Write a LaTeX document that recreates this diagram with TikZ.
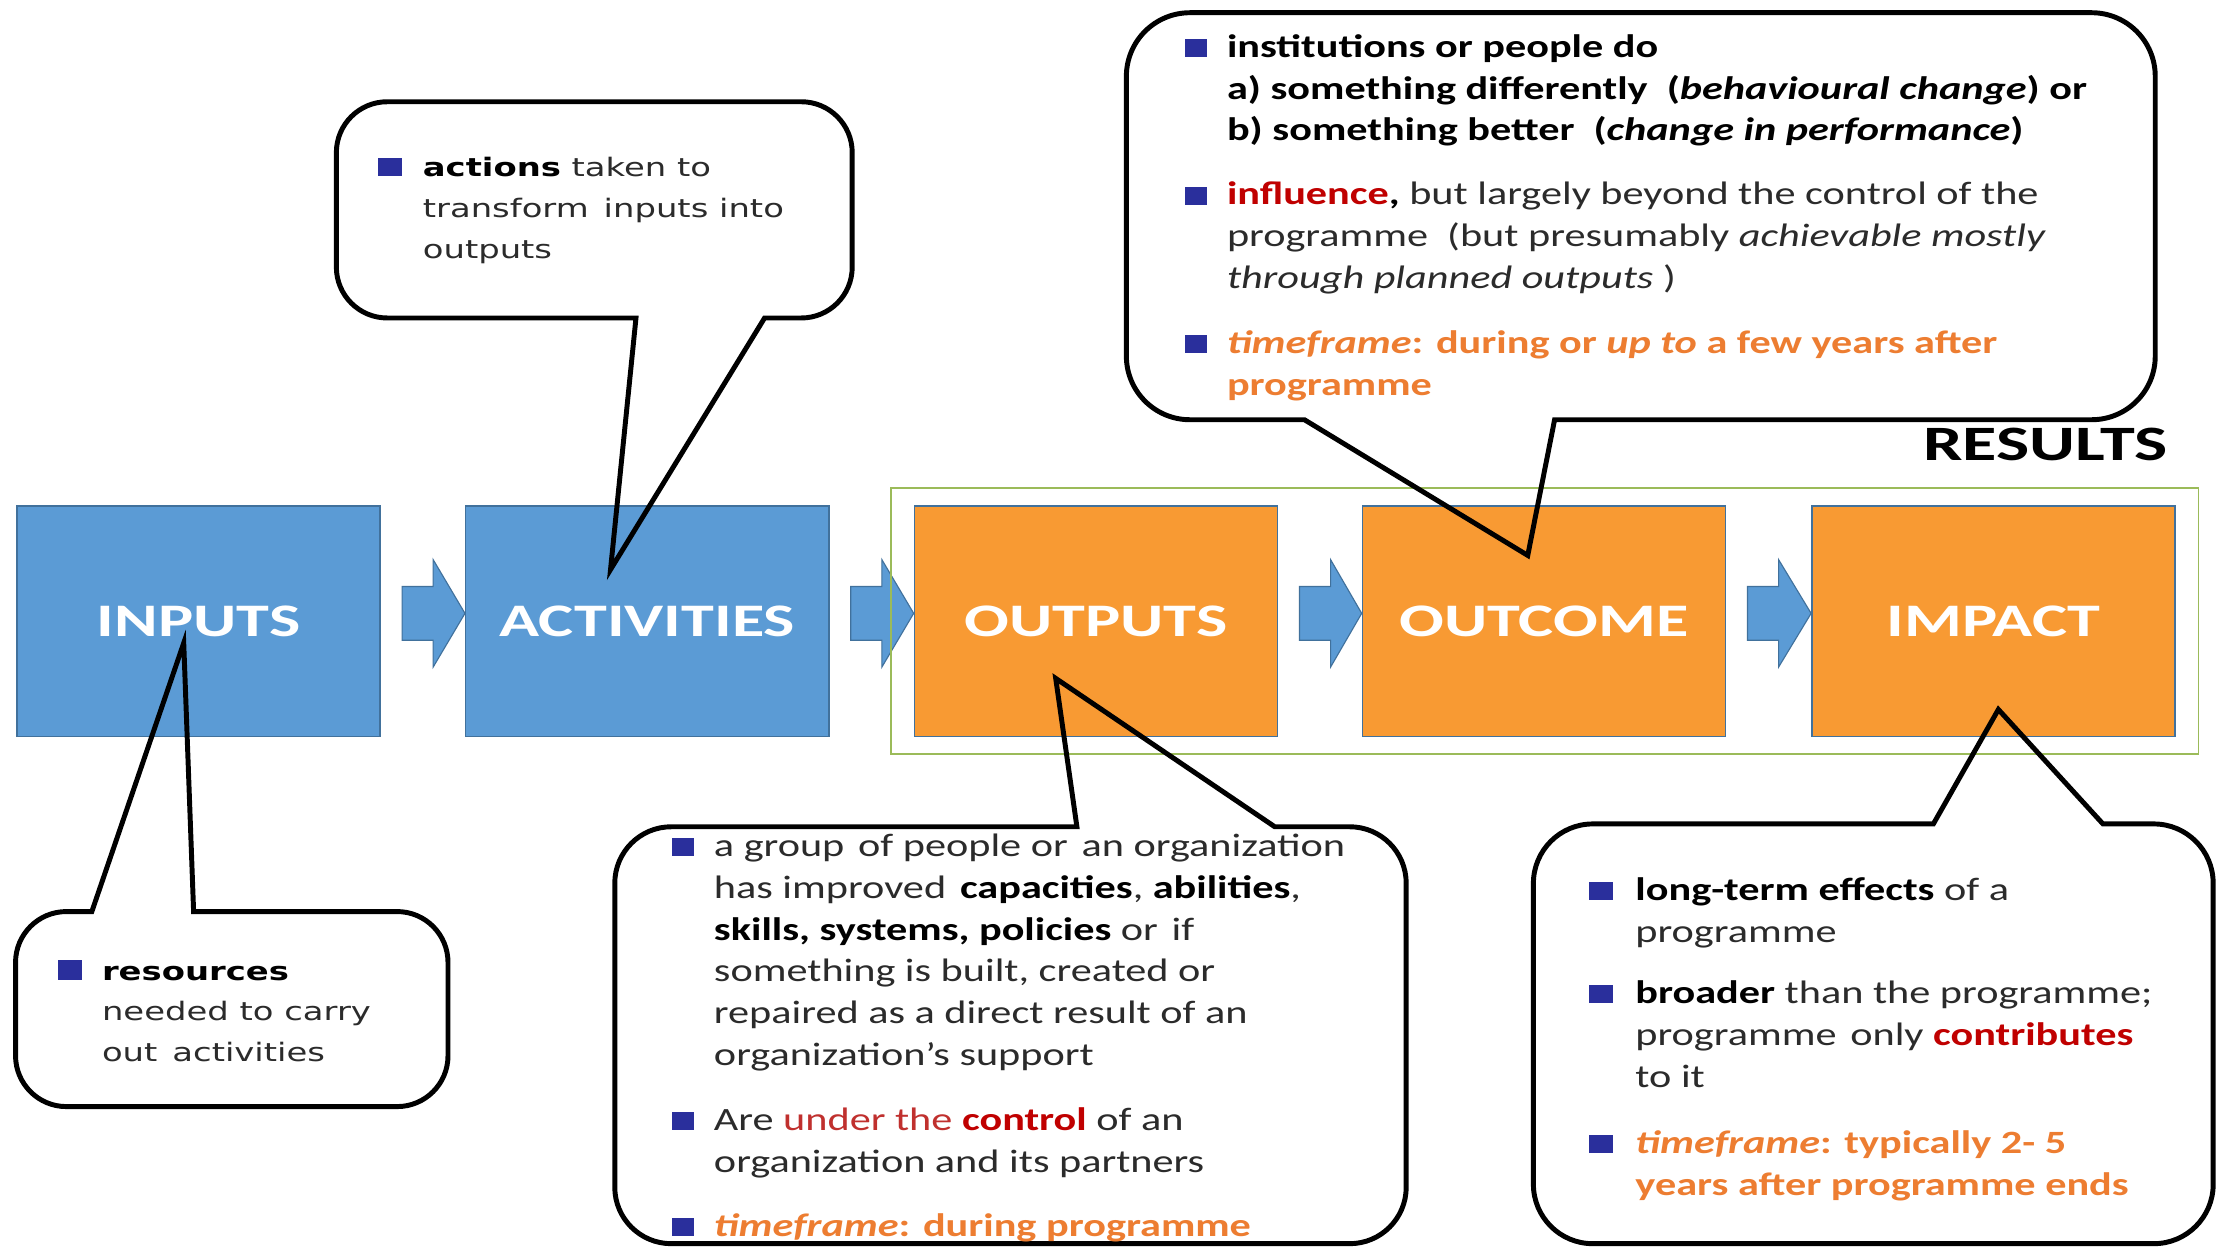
\documentclass[tikz,border=0pt]{standalone}
\usepackage{fontspec}
\setmainfont{Carlito}[FakeStretch=1.3]
\newfontfamily\labelfont{Carlito}[FakeStretch=1.42]
\newfontfamily\vfont{DejaVu Sans}[FakeStretch=1.33]
\usetikzlibrary{fit}
\definecolor{boxblue}{HTML}{5B9BD5}
\definecolor{boxorange}{HTML}{F89A33}
\definecolor{boxline}{HTML}{41719C}
\definecolor{resgreen}{HTML}{9BBB59}
\definecolor{bodytext}{HTML}{2B2B2B}
\definecolor{redd}{HTML}{C00000}
\definecolor{redl}{HTML}{C0302E}
\definecolor{orangetext}{HTML}{ED7D31}
\definecolor{bulletblue}{HTML}{2A2F9C}
\newcommand{\mlines}[1]{\begin{tabular}[t]{@{}l@{}}#1\end{tabular}}
\newcommand{\bk}[1]{\textbf{\color{black}#1}}
\newcommand{\gap}{\hspace{3pt}}
\newcommand{\barrow}[2]{%
  \fill[boxblue, draw=boxline, line width=0.8pt]
    ([shift={(15pt,24.5pt)}]#1.east) -- ([shift={(37pt,24.5pt)}]#1.east)
    -- ([shift={(37pt,43.5pt)}]#1.east) -- ([yshift=5.5pt]#2.west)
    -- ([shift={(37pt,-32.5pt)}]#1.east) -- ([shift={(37pt,-13.5pt)}]#1.east)
    -- ([shift={(15pt,-13.5pt)}]#1.east) -- cycle;}
\begin{document}
\begin{tikzpicture}[x=1pt,y=-1pt,
  stage/.style={draw=boxline, line width=1pt, minimum width=257pt, minimum height=163pt,
    inner sep=0pt, text=white, font=\labelfont\bfseries\fontsize{33}{33}\selectfont},
  callout/.style={draw=black, line width=3.5pt},
  txt/.style={anchor=base west, inner sep=0pt, text=bodytext, font=\fontsize{23}{29.6}\selectfont},
  otxt/.style={anchor=base west, inner sep=0pt, text=orangetext, font=\bfseries\fontsize{23}{29.6}\selectfont},
  vtxt/.style={anchor=base west, inner sep=0pt, text=bodytext, font=\vfont\fontsize{18}{28.8}\selectfont},
  bullet/.style={anchor=south west, fill=bulletblue, inner sep=0pt, minimum width=16pt, minimum height=13pt}]
\path[use as bounding box, fill=white] (0,0) rectangle (1568,882);

% stage boxes
\node[stage, fill=boxblue]   (inputs)     at (140.5,439.5) {INPUTS};
\node[stage, fill=boxblue]   (activities) at (458,439.5)   {ACTIVITIES};
\node[stage, fill=boxorange] (outputs)    at (775.5,439.5) {OUTPUTS};
\node[stage, fill=boxorange] (outcome)    at (1092.5,439.5){OUTCOME};
\node[stage, fill=boxorange] (impact)     at (1410.5,439.5){IMPACT};

% block arrows
\barrow{inputs}{activities}
\barrow{activities}{outputs}
\barrow{outputs}{outcome}
\barrow{outcome}{impact}

% results frame
\node[draw=resgreen, line width=1.2pt, fit=(outputs)(impact), inner xsep=16pt, inner ysep=12pt] (results) {};
\node[anchor=base east, inner sep=0pt, font=\labelfont\bfseries\fontsize{35}{35}\selectfont] (reslabel) at (1534,326) {RESULTS};

% callout shapes
\draw[callout] (420,72) [rounded corners=36pt] -- (603,72) -- (603,225) [sharp corners] -- (541,225)
  -- (432,403) -- (450,225) [rounded corners=36pt] -- (238,225) -- (238,72) -- cycle;
\draw[callout] (165,783) [rounded corners=36pt] -- (11,783) -- (11,645) [sharp corners] -- (65,645)
  -- (130,455) -- (137,645) [rounded corners=36pt] -- (317,645) -- (317,783) -- cycle;
\draw[callout] (715,880) [rounded corners=40pt] -- (435,880) -- (435,585) [sharp corners] -- (762,585)
  -- (747,480) -- (902,585) [rounded corners=40pt] -- (995,585) -- (995,880) -- cycle;
\draw[callout] (1160,9) [rounded corners=45pt] -- (1525,9) -- (1525,297) [sharp corners] -- (1100,297)
  -- (1081,393) -- (923,297) [rounded corners=45pt] -- (797,297) -- (797,9) -- cycle;
\draw[callout] (1300,880) [rounded corners=42pt] -- (1085,880) -- (1085,583) [sharp corners] -- (1368,583)
  -- (1414,502) -- (1488,583) [rounded corners=42pt] -- (1566,583) -- (1566,880) -- cycle;

% activities text
\node[bullet, minimum width=17pt] (acb1) at (267,125) {};
\node[vtxt] (ac1) at (299,125) {\mlines{\bk{actions} taken to\\ transform\gap{} inputs into\\ outputs}};

% inputs text
\node[bullet, minimum width=17pt, minimum height=14pt] (inb1) at (41,693.5) {};
\node[vtxt] (in1) at (72,693.5) {\mlines{\bk{resources}\\ needed to carry\\ out\gap{} activities}};

% outputs text
\node[bullet] (opb1) at (475,606) {};
\node[txt] (op1) at (505,606) {\mlines{a group\gap{} of people or\gap{} an organization\\
  has improved\gap{} \bk{capacities}, \bk{abilities},\\
  \bk{skills, systems, policies} or\gap{} if\\
  something is built, created or\\
  repaired as a direct result of an\\
  organization’s support}};
\node[bullet] (opb2) at (475,800) {};
\node[txt] (op2) at (505,800) {\mlines{Are \textcolor{redl}{under the} \textcolor{redd}{\textbf{control}} of an\\
  organization and its partners}};
\node[bullet] (opb3) at (475,875) {};
\node[otxt] (op3) at (505,875) {\mlines{\textit{timeframe}: during programme}};

% outcome text
\node[bullet, minimum height=12.5pt] (ocb1) at (838,40.5) {};
\node[txt] (oc1) at (868,40.5) {\mlines{\bk{institutions or people do}\\
  \bk{a) something differently \ (\textit{behavioural change}) or}\\
  \bk{b) something better \ (\textit{change in performance})}}};
\node[bullet, minimum height=12.5pt] (ocb2) at (838,145) {};
\node[txt] (oc2) at (868,145) {\mlines{\textcolor{redd}{\textbf{influence}}\bk{,} but largely beyond the control of the\\
  programme \ (but presumably \textit{achievable mostly}\\
  \textit{through planned outputs} )}};
\node[bullet, minimum height=12.5pt] (ocb3) at (838,250) {};
\node[otxt] (oc3) at (868,250) {\mlines{\textit{timeframe}: during or \textit{up to} a few years after\\ programme}};

% impact text
\node[bullet, minimum width=17pt] (imb1) at (1124,637) {};
\node[txt] (im1) at (1157,637) {\mlines{\bk{long-term effects} of a\\ programme}};
\node[bullet, minimum width=17pt] (imb2) at (1124,710) {};
\node[txt] (im2) at (1157,710) {\mlines{\bk{broader} than the programme;\\
  programme\gap{} only \textcolor{redd}{\textbf{contributes}}\\ to it}};
\node[bullet, minimum width=17pt] (imb3) at (1124,816) {};
\node[otxt] (im3) at (1157,816) {\mlines{\textit{timeframe}: typically 2- 5\\ years after programme ends}};
\end{tikzpicture}
\end{document}
